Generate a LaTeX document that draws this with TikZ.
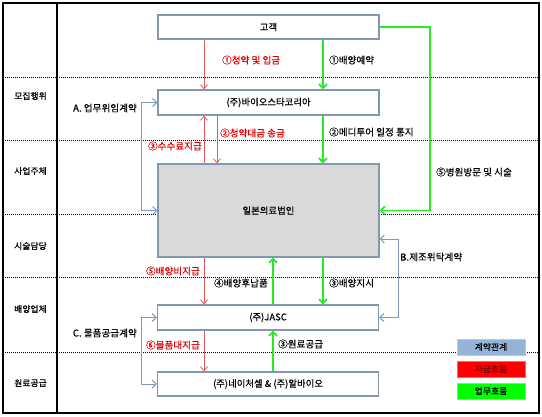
\documentclass[tikz,border=0pt]{standalone}
\usepackage{fontspec}
\setmainfont{Noto Sans CJK KR}[FakeBold=0.6, LetterSpace=1]
\usetikzlibrary{arrows.meta}
\definecolor{boxline}{RGB}{132,151,176}
\definecolor{boxgray}{RGB}{217,217,217}
\definecolor{moneyred}{RGB}{224,90,90}
\definecolor{labelred}{RGB}{225,0,0}
\definecolor{darkredtext}{RGB}{110,0,0}
\definecolor{workgreen}{RGB}{40,235,40}
\definecolor{contractblue}{RGB}{125,155,195}
\definecolor{legendblue}{RGB}{149,179,215}
\begin{document}
\begin{tikzpicture}[x=1pt,y=-1pt,
  box/.style={draw=boxline, line width=1.3pt, fill=white, minimum width=221pt, minimum height=24pt, inner sep=0pt, font=\fontsize{9.3}{10}\selectfont},
  lbl/.style={font=\fontsize{9.5}{10}\selectfont, inner sep=0pt},
  rowlbl/.style={font=\fontsize{8.75}{10}\selectfont, inner sep=0pt},
  redlbl/.style={lbl, text=labelred},
  money/.style={draw=moneyred, line width=0.8pt, -{Straight Barb[length=4pt,width=7pt]}},
  work/.style={draw=workgreen, line width=1.8pt, -{Straight Barb[length=4pt,width=8pt]}},
  contract/.style={draw=contractblue, line width=1pt, {Straight Barb[length=4pt,width=8pt]}-{Straight Barb[length=4pt,width=8pt]}},
  sep/.style={line width=0.8pt, dash pattern=on 1pt off 1pt},
  legend/.style={minimum width=68pt, minimum height=16pt, inner sep=0pt, font=\fontsize{8.75}{9}\selectfont},
]
\useasboundingbox (0,0) rectangle (542,416);
\fill[white] (0,0) rectangle (542,416);
% frame and rows
\draw[line width=1.2pt] (3,3) rectangle (539,413);
\draw[line width=1.2pt] (57,3) -- (57,413);
\foreach \yy in {77,140,214,277,352} {\draw[sep] (3,\yy) -- (539,\yy);}
\node[rowlbl] (r1) at (30.5,96) {모집행위};
\node[rowlbl] (r2) at (30.5,171) {사업주체};
\node[rowlbl] (r3) at (30.5,246) {시술담당};
\node[rowlbl] (r4) at (30.5,309) {배양업체};
\node[rowlbl] (r5) at (30.5,383) {원료공급};
% boxes
\node[box] (gogaek) at (268.5,27) {고객};
\node[box, minimum height=25pt] (bio) at (268.5,102.5) {(주)바이오스타코리아};
\node[box, fill=boxgray, minimum height=93pt] (jp) at (268.5,210.5) {일본의료법인};
\node[box, minimum height=25pt] (jasc) at (268,317.5) {(주)JASC};
\node[box] (nature) at (268,384) {(주)네이처셀 \& (주)알바이오};
% helper coordinates
\coordinate (xa) at (204,0);
\coordinate (xb) at (217,0);
\coordinate (xg) at (323,0);
\coordinate (xh) at (273,0);
\coordinate (xr) at (430,0);
\coordinate (xl) at (141,0);
\coordinate (xbr) at (398,0);
\coordinate (yb) at (0,239);
% flows
\draw[money] (gogaek.south -| xa) -- (bio.north -| xa);
\draw[work] (gogaek.south -| xg) -- (bio.north -| xg);
\draw[money] (jp.north -| xa) -- (bio.south -| xa);
\draw[money] (bio.south -| xb) -- (jp.north -| xb);
\draw[work] (bio.south -| xg) -- (jp.north -| xg);
\draw[work] (gogaek.east) -| (xr |- jp.east) -- (jp.east);
\draw[contract] (bio.west) -| (xl |- jp.west) -- (jp.west);
\draw[contract] (jp.east |- yb) -| (xbr |- jasc.east) -- (jasc.east);
\draw[contract] (jasc.west) -| (xl |- nature.west) -- (nature.west);
\draw[money] (jp.south -| xa) -- (jasc.north -| xa);
\draw[work] (jasc.north -| xh) -- (jp.south -| xh);
\draw[work] (jp.south -| xg) -- (jasc.north -| xg);
\draw[money] (jasc.south -| xa) -- (nature.north -| xa);
\draw[work] (nature.north -| xh) -- (jasc.south -| xh);
% labels
\node[redlbl, anchor=west] (l1) at (222,60) {①청약 및 입금};
\node[lbl, anchor=west] (l2) at (329,60) {①배양예약};
\node[lbl, anchor=east] (lA) at (137,108) {A. 업무위임계약};
\node[redlbl, anchor=west] (l3) at (220,133) {②청약대금 송금};
\node[redlbl, anchor=east] (l4) at (202,146) {③수수료지급};
\node[lbl, anchor=west] (l5) at (329,132) {②메디투어 일정 통지};
\node[lbl, anchor=west] (l6) at (436,172) {⑤병원방문 및 시술};
\node[lbl, anchor=west] (lB) at (400,257) {B.제조위탁계약};
\node[redlbl, anchor=east] (l7) at (200,271) {⑤배양비지급};
\node[lbl, anchor=east] (l8) at (268,283) {④배양후납품};
\node[lbl, anchor=west] (l9) at (329,283) {③배양지시};
\node[lbl, anchor=east] (lC) at (137,333) {C. 물품공급계약};
\node[redlbl, anchor=east] (l10) at (200,345) {⑥물품대지급};
\node[lbl, anchor=west] (l11) at (278,344) {③원료공급};
% legend
\node[legend, fill=legendblue, draw=legendblue!70!white] (lg1) at (491,347) {계약관계};
\node[legend, fill=red, draw=red!60!white, text=darkredtext] (lg2) at (491,369) {자금흐름};
\node[legend, fill=green, draw=green!60!white] (lg3) at (491,391) {업무흐름};
\end{tikzpicture}
\end{document}
